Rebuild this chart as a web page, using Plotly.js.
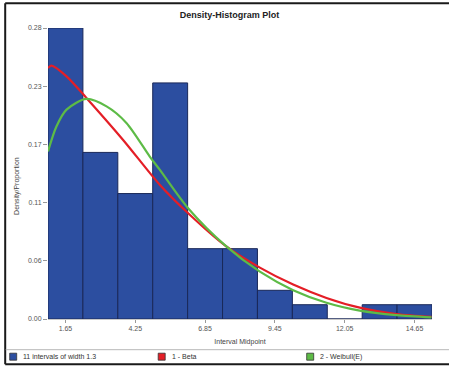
<!DOCTYPE html>
<html>
<head>
<meta charset="utf-8">
<script src="https://cdn.plot.ly/plotly-3.0.1.min.js"></script>
<style>
html,body{margin:0;padding:0;background:#fff;}
#chart{width:449px;height:367px;}
</style>
</head>
<body>
<div id="chart"></div>
<script>
// Histogram: interval midpoints and densities
const midpoints = [1.65, 2.95, 4.25, 5.55, 6.85, 8.15, 9.45, 10.75, 12.05, 13.35, 14.65];
const densities = [0.283, 0.162, 0.122, 0.2296, 0.0684, 0.0684, 0.0279, 0.0139, 0, 0.0139, 0.0139];
const intervalWidth = 1.3;

// Fitted curves
const betaX = [1.0, 1.13, 1.69, 2.43, 3.79, 5.16, 6.21, 7.64, 8.89, 10.13, 11.37, 12.61, 13.98, 15.28];
const betaY = [0.244, 0.2464, 0.236, 0.215, 0.1744, 0.1306, 0.1031, 0.0706, 0.050, 0.0335, 0.0205, 0.011, 0.0048, 0.002];
const weibullX = [1.0, 1.31, 1.69, 2.43, 3.18, 3.92, 4.79, 5.16, 6.21, 7.64, 8.89, 10.13, 11.37, 12.61, 13.98, 15.28];
const weibullY = [0.163, 0.187, 0.2036, 0.214, 0.2068, 0.1907, 0.158, 0.1452, 0.108, 0.0706, 0.046, 0.028, 0.0158, 0.0082, 0.0038, 0.0016];

// Axis ticks
const xTickVals = [1.65, 4.25, 6.85, 9.45, 12.05, 14.65];
const xTickText = ["1.65", "4.25", "6.85", "9.45", "12.05", "14.65"];
const yTickVals = [0, 0.0566, 0.1132, 0.1698, 0.2264, 0.283];
const yTickText = ["0.00", "0.06", "0.11", "0.17", "0.23", "0.28"];

// Legend
const legendLabels = ["11 intervals of width 1.3", "1 - Beta", "2 - Weibull(E)"];
const legendColors = ["#2C4EA0", "#E41E26", "#5DBB46"];

const W = 449, H = 367;
const L = 48.3, R = 16.7, T = 28.3, B = 47.7;
const pw = W - L - R, ph = H - T - B;
const px = v => (v - L) / pw;          // pixel x -> paper x
const py = v => (H - B - v) / ph;      // pixel y -> paper y

const traces = [
  {
    type: 'bar', x: midpoints, y: densities, width: intervalWidth,
    marker: {color: legendColors[0], line: {color: '#1A2858', width: 1}},
    hoverinfo: 'x+y', showlegend: false
  },
  {
    type: 'scatter', mode: 'lines', x: betaX, y: betaY,
    line: {color: legendColors[1], width: 2.2, shape: 'spline', smoothing: 0.8}, showlegend: false
  },
  {
    type: 'scatter', mode: 'lines', x: weibullX, y: weibullY,
    line: {color: legendColors[2], width: 2.2, shape: 'spline', smoothing: 0.8}, showlegend: false
  }
];

const shapes = [
  // outer frame
  {type: 'line', xref: 'paper', yref: 'paper', x0: px(5.5), x1: px(5.5), y0: py(3.5), y1: py(364.5), line: {color: '#1a1a1a', width: 2}},
  {type: 'line', xref: 'paper', yref: 'paper', x0: px(5.5), x1: px(450), y0: py(3.5), y1: py(3.5), line: {color: '#1a1a1a', width: 2}},
  {type: 'line', xref: 'paper', yref: 'paper', x0: px(5.5), x1: px(450), y0: py(364.5), y1: py(364.5), line: {color: '#1a1a1a', width: 2}},
  // legend separator
  {type: 'line', xref: 'paper', yref: 'paper', x0: px(6), x1: px(450), y0: py(350), y1: py(350), line: {color: '#b8b8b8', width: 1}}
];

const annotations = [
  {xref: 'paper', yref: 'paper', x: px(16.5), y: py(186), textangle: -90,
   xanchor: 'center', yanchor: 'middle', showarrow: false, text: 'Density/Proportion',
   font: {family: 'Liberation Sans, Arial, sans-serif', size: 7, color: '#444'}}
];
const legendX = [10, 158.5, 307];
const legendTextX = [21, 170, 318];
for (let i = 0; i < legendLabels.length; i++) {
  shapes.push({type: 'rect', xref: 'paper', yref: 'paper',
    x0: px(legendX[i]), x1: px(legendX[i] + 7), y0: py(353.5), y1: py(360.5),
    fillcolor: legendColors[i], line: {color: '#333', width: 0.8}});
  annotations.push({xref: 'paper', yref: 'paper', x: px(legendTextX[i]), y: py(357),
    xanchor: 'left', yanchor: 'middle', showarrow: false, text: legendLabels[i],
    font: {family: 'Liberation Sans, Arial, sans-serif', size: 7, color: '#333'}});
}

const layout = {
  width: W, height: H,
  margin: {l: L, r: R, t: T, b: B, pad: 0},
  paper_bgcolor: '#ffffff', plot_bgcolor: '#ffffff',
  font: {family: 'Liberation Sans, Arial, sans-serif', size: 7, color: '#555'},
  title: {
    text: '<b>Density-Histogram Plot</b>',
    font: {family: 'Liberation Sans, Arial, sans-serif', size: 9, color: '#222'},
    xref: 'paper', x: px(229.7), xanchor: 'center',
    yref: 'container', y: 1 - 15 / H, yanchor: 'middle'
  },
  bargap: 0,
  xaxis: {
    range: [1.0, 15.3], tickvals: xTickVals, ticktext: xTickText,
    ticks: 'outside', ticklen: 3, tickcolor: '#999', showgrid: false, zeroline: false,
    showline: true, linecolor: '#c8c8c8', linewidth: 1,
    tickfont: {size: 7, color: '#555'},
    title: {text: 'Interval Midpoint', font: {size: 7, color: '#444'}, standoff: 7}
  },
  yaxis: {
    range: [0, 0.283], tickvals: yTickVals, ticktext: yTickText,
    ticks: 'outside', ticklen: 4, tickcolor: '#999', showgrid: false, zeroline: false,
    showline: false,
    tickfont: {size: 7, color: '#555'}
  },
  shapes: shapes,
  annotations: annotations,
  showlegend: false
};

Plotly.newPlot('chart', traces, layout, {staticPlot: true, displayModeBar: false});
</script>
</body>
</html>
